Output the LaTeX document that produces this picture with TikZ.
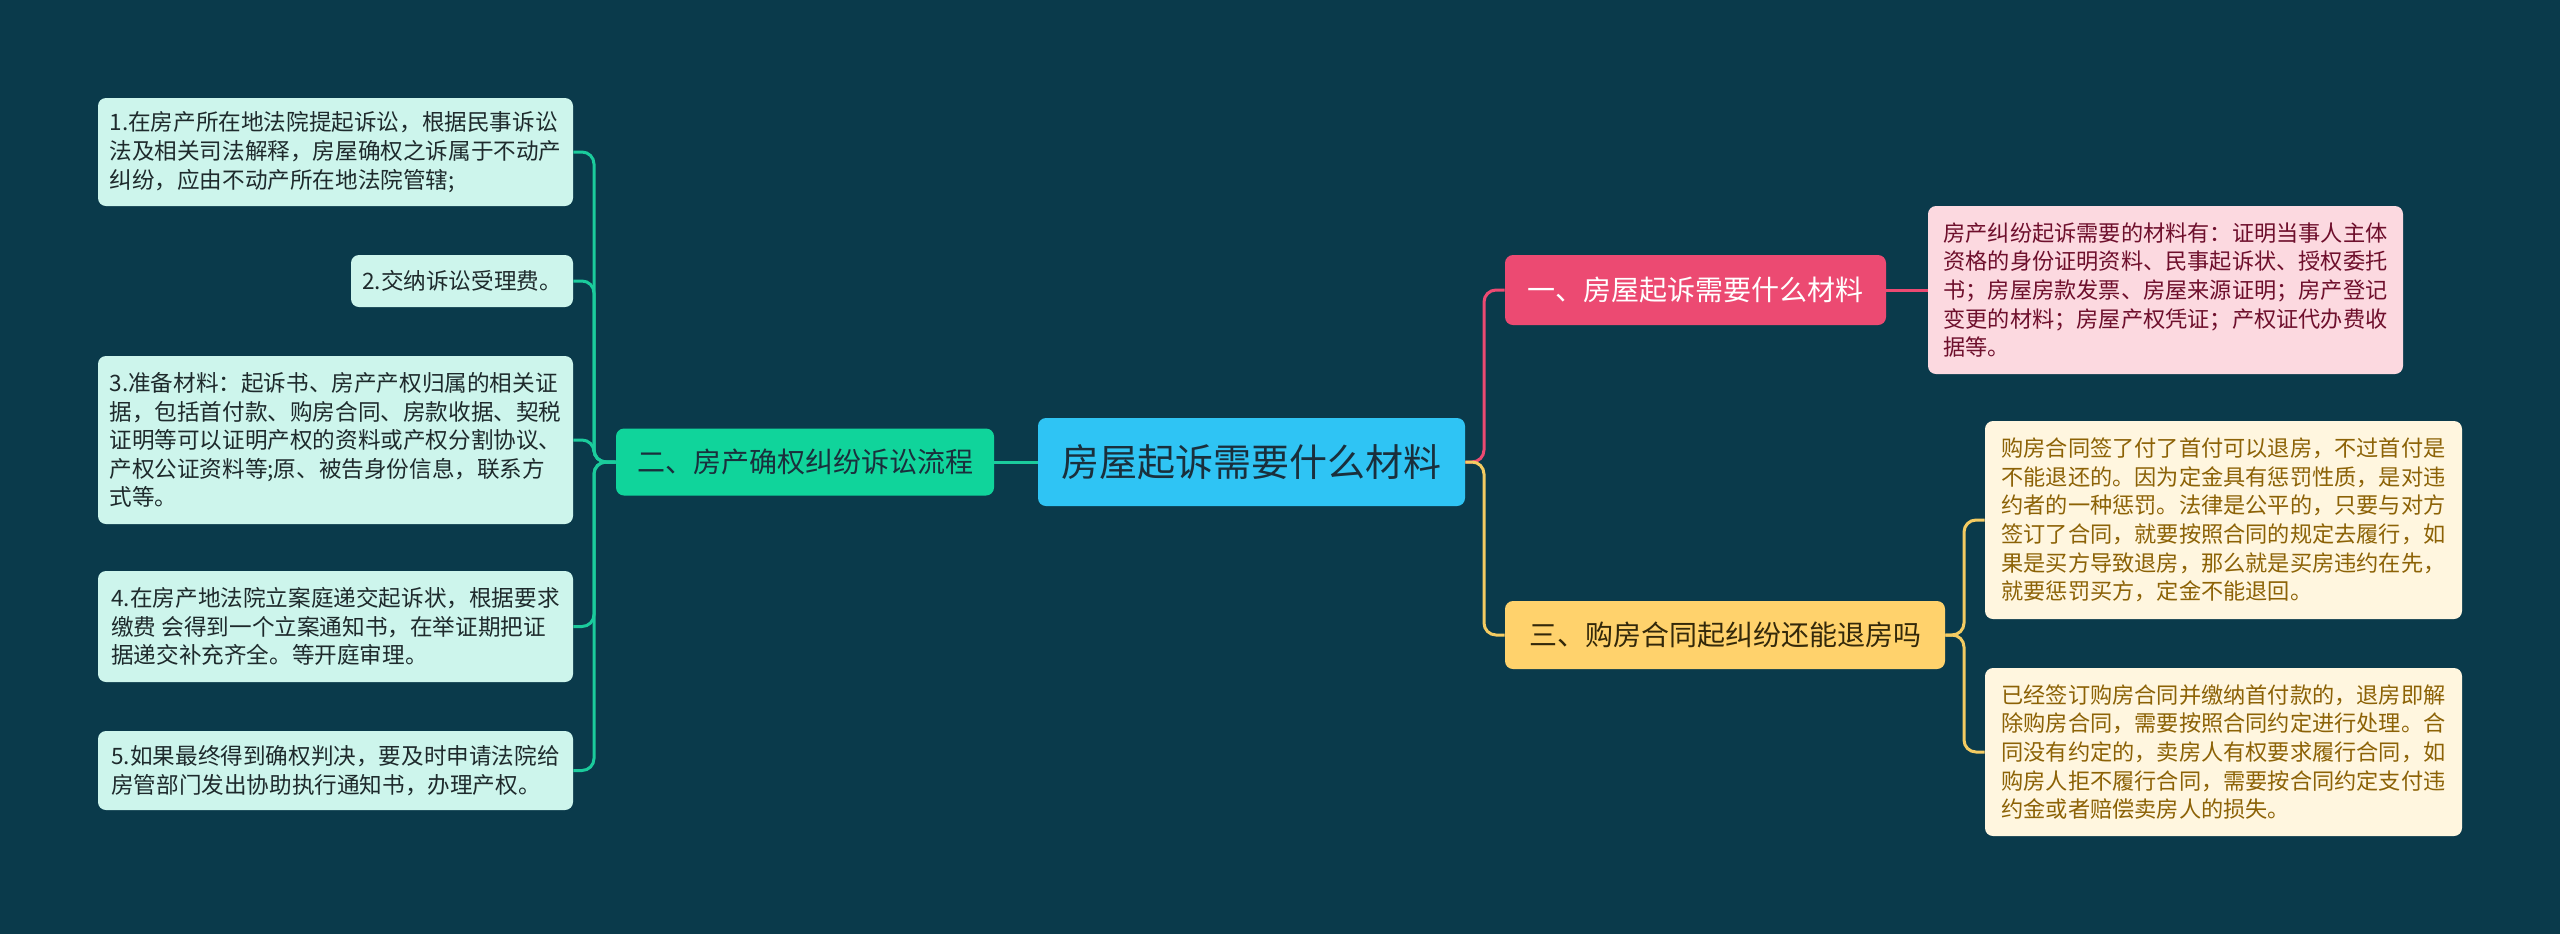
\documentclass[tikz,border=0pt]{standalone}
\usepackage{fontspec}
\setmainfont{Noto Sans CJK SC}
\definecolor{bg}{HTML}{0A3A4B}
\definecolor{gfill}{HTML}{10D49B}
\definecolor{gline}{HTML}{1BCB9C}
\definecolor{gleaf}{HTML}{CDF5EC}
\definecolor{gtext}{HTML}{1E2A2C}
\definecolor{cfill}{HTML}{2FC4F4}
\definecolor{ctext}{HTML}{1A2F3C}
\definecolor{rfill}{HTML}{EC4A72}
\definecolor{rleaf}{HTML}{FCD9E0}
\definecolor{rtext}{HTML}{6E0F2C}
\definecolor{yfill}{HTML}{FFD26C}
\definecolor{yline}{HTML}{F4CB62}
\definecolor{yleaf}{HTML}{FFF6DF}
\definecolor{ytext}{HTML}{8C6206}
\definecolor{ybtext}{HTML}{33280A}
\tikzset{
  box/.style={rounded corners=4pt, inner sep=0pt, align=left},
  leafg/.style={box, fill=gleaf, text=gtext, font=\fontsize{11.3pt}{14.3pt}\selectfont},
  leafr/.style={box, fill=rleaf, text=rtext, font=\fontsize{11.1pt}{14.3pt}\selectfont},
  leafy/.style={box, fill=yleaf, text=ytext, font=\fontsize{11.1pt}{14.3pt}\selectfont},
  branch/.style={box, align=center, font=\fontsize{14pt}{16pt}\selectfont},
  conn/.style={line width=1.5pt, rounded corners=6pt}
}
\begin{document}
\begin{tikzpicture}[x=0.5pt, y=-0.5pt]
\fill[bg] (0,0) rectangle (2560,934);
\useasboundingbox (0,0) rectangle (2560,934);

% center
\node[box, align=center, fill=cfill, text=ctext, minimum width=213.5pt, minimum height=44pt, font=\fontsize{19pt}{22pt}\selectfont] (C) at (1251.5,462) {房屋起诉需要什么材料};

% branches
\node[branch, fill=gfill, text=ctext, minimum width=189pt, minimum height=33.5pt] (G) at (805,462) {二、房产确权纠纷诉讼流程};
\node[branch, fill=rfill, text=white, minimum width=190.5pt, minimum height=35pt] (R) at (1695.5,290) {一、房屋起诉需要什么材料};
\node[branch, fill=yfill, text=ybtext, minimum width=220pt, minimum height=34pt] (Y) at (1725,635) {三、购房合同起纠纷还能退房吗};

% left leaves
\node[leafg, minimum width=237.5pt, minimum height=54pt] (L1) at (335.5,152) {1.在房产所在地法院提起诉讼，根据民事诉讼\\法及相关司法解释，房屋确权之诉属于不动产\\纠纷，应由不动产所在地法院管辖;};
\node[leafg, minimum width=111pt, minimum height=26pt] (L2) at (462,281) {2.交纳诉讼受理费。};
\node[leafg, minimum width=237.5pt, minimum height=84pt] (L3) at (335.5,440) {3.准备材料：起诉书、房产产权归属的相关证\\据，包括首付款、购房合同、房款收据、契税\\证明等可以证明产权的资料或产权分割协议、\\产权公证资料等;原、被告身份信息，联系方\\式等。};
\node[leafg, minimum width=237.5pt, minimum height=55.5pt] (L4) at (335.5,626.5) {4.在房产地法院立案庭递交起诉状，根据要求\\缴费 会得到一个立案通知书，在举证期把证\\据递交补充齐全。等开庭审理。};
\node[leafg, minimum width=237.5pt, minimum height=39.5pt] (L5) at (335.5,770.5) {5.如果最终得到确权判决，要及时申请法院给\\房管部门发出协助执行通知书，办理产权。};

% right leaves
\node[leafr, minimum width=237.5pt, minimum height=84pt] (RL) at (2165.5,290) {房产纠纷起诉需要的材料有：证明当事人主体\\资格的身份证明资料、民事起诉状、授权委托\\书；房屋房款发票、房屋来源证明；房产登记\\变更的材料；房屋产权凭证；产权证代办费收\\据等。};
\node[leafy, minimum width=238.5pt, minimum height=99pt] (Y1) at (2223.5,520) {购房合同签了付了首付可以退房，不过首付是\\不能退还的。因为定金具有惩罚性质，是对违\\约者的一种惩罚。法律是公平的，只要与对方\\签订了合同，就要按照合同的规定去履行，如\\果是买方导致退房，那么就是买房违约在先，\\就要惩罚买方，定金不能退回。};
\node[leafy, minimum width=238.5pt, minimum height=84pt] (Y2) at (2223.5,752) {已经签订购房合同并缴纳首付款的，退房即解\\除购房合同，需要按照合同约定进行处理。合\\同没有约定的，卖房人有权要求履行合同，如\\购房人拒不履行合同，需要按合同约定支付违\\约金或者赔偿卖房人的损失。};

% junctions
\coordinate (jl) at (594,462);
\coordinate (jr) at (1484,462);
\coordinate (jy) at (1964,635);

% connectors
\draw[conn, gline] (C.west) -- (G.east);
\foreach \n in {L1,L2,L3,L4,L5}{
  \draw[conn, gline] (G.west) -- (jl) |- (\n.east);
}
\draw[conn, rfill] (C.east) -- (jr) |- (R.west);
\draw[conn, yline] (C.east) -- (jr) |- (Y.west);
\draw[conn, rfill] (R.east) -- (RL.west);
\draw[conn, yline] (Y.east) -- (jy) |- (Y1.west);
\draw[conn, yline] (Y.east) -- (jy) |- (Y2.west);
\end{tikzpicture}
\end{document}
